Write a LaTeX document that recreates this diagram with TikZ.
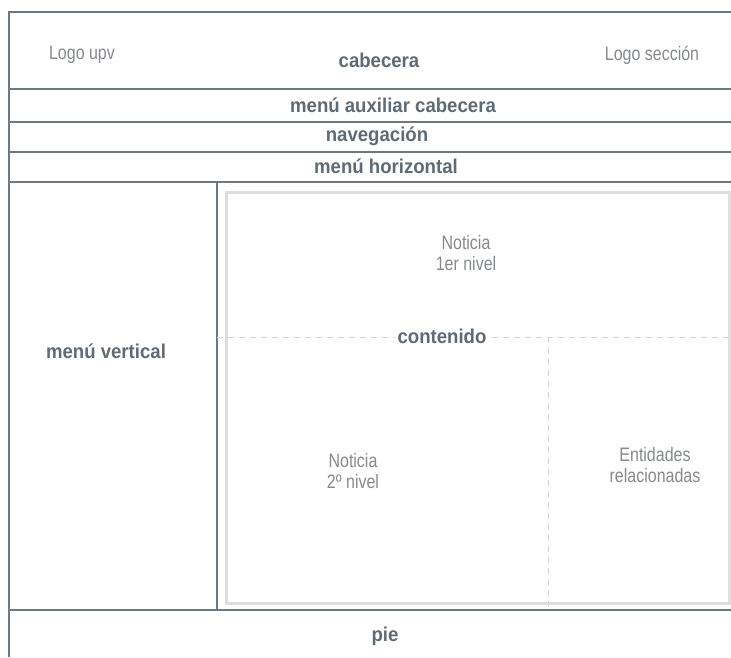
\documentclass[tikz,border=0pt]{standalone}
\usepackage{fontspec}
\newfontfamily\boldf{Liberation Sans}[FakeStretch=0.93]
\newfontfamily\regf{Liberation Sans}[FakeStretch=0.82]
\definecolor{linec}{HTML}{6E7880}
\definecolor{boxc}{HTML}{DEDEDE}
\definecolor{guidec}{HTML}{D6D6D6}
\definecolor{boldc}{HTML}{5F6B74}
\definecolor{plainc}{HTML}{868A8E}
\begin{document}
\begin{tikzpicture}[x=1pt,y=-1pt,
  frame/.style={draw=linec, line width=1.4pt},
  innerbox/.style={draw=boxc, line width=3pt},
  guide/.style={draw=guidec, line width=0.9pt, dash pattern=on 6pt off 5pt},
  bold/.style={font=\boldf\bfseries\fontsize{20}{22}\selectfont, text=boldc, inner sep=3pt},
  plain/.style={font=\regf\fontsize{19.5}{21}\selectfont, text=plainc, align=center}]
\useasboundingbox (0,0) rectangle (731,657);
% frame coordinates
\coordinate (tl) at (9,12);
\coordinate (tr) at (731,12);
\coordinate (bl) at (9,657);
\coordinate (l1) at (9,89);   \coordinate (r1) at (731,89);
\coordinate (l2) at (9,122);  \coordinate (r2) at (731,122);
\coordinate (l3) at (9,152);  \coordinate (r3) at (731,152);
\coordinate (l4) at (9,182);  \coordinate (r4) at (731,182);
\coordinate (l5) at (9,610);  \coordinate (r5) at (731,610);
\coordinate (vt) at (217,182);
\coordinate (vb) at (217,610);
\draw[frame] (tr) -- (tl) -- (bl);
\draw[frame] (l1) -- (r1);
\draw[frame] (l2) -- (r2);
\draw[frame] (l3) -- (r3);
\draw[frame] (l4) -- (r4);
\draw[frame] (l5) -- (r5);
\draw[frame] (vt) -- (vb);
% content box
\draw[innerbox] (226,192) rectangle (729,603);
\coordinate (gl) at (217,337);
\coordinate (gr) at (731,337);
\coordinate (gt) at (548,337);
\coordinate (gb) at (548,610);
\draw[guide] (gl) -- (gr);
\draw[guide] (gt) -- (gb);
% texts
\node[plain] (logoupv) at (82,55) {Logo upv};
\node[bold] (cab) at (379,60) {cabecera};
\node[plain] (logosec) at (652,55) {Logo sección};
\node[bold] (aux) at (393,105) {menú auxiliar cabecera};
\node[bold] (nav) at (377,136) {navegación};
\node[bold] (hor) at (386,166) {menú horizontal};
\node[bold] (vert) at (106,351) {menú vertical};
\node[bold, fill=white] (cont) at (442,336) {contenido};
\node[plain] (n1) at (466,253) {Noticia\\1er nivel};
\node[plain] (n2) at (353,471) {Noticia\\2º nivel};
\node[plain] (ent) at (655,465) {Entidades\\relacionadas};
\node[bold] (pie) at (385,636) {pie};
\end{tikzpicture}
\end{document}
